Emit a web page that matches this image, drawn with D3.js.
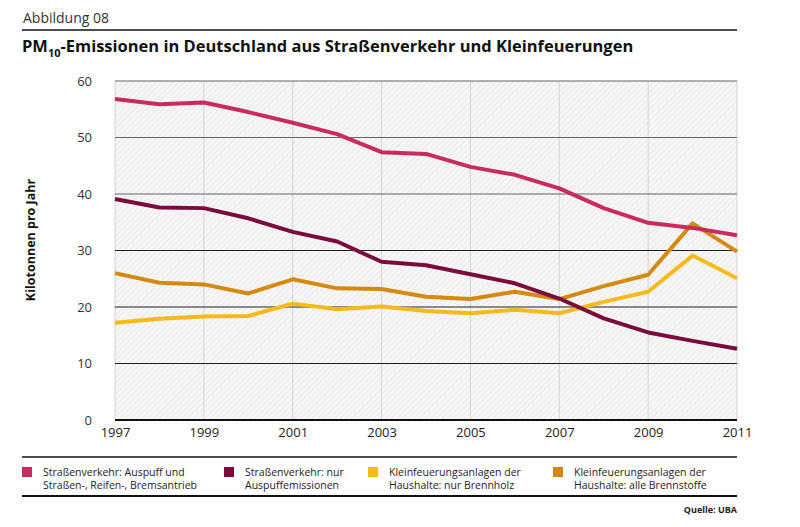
<!DOCTYPE html>
<html><head><meta charset="utf-8">
<script src="https://cdn.jsdelivr.net/npm/d3@7"></script>
<style>
body{margin:0;background:#fff;}
text{font-family:"Open Sans",sans-serif;}
</style></head>
<body><svg id="c" width="800" height="527"></svg>
<script>
const years = [1997,1998,1999,2000,2001,2002,2003,2004,2005,2006,2007,2008,2009,2010,2011];
const tickYears = [1997,1999,2001,2003,2005,2007,2009,2011];
const yTicks = [0,10,20,30,40,50,60];
const strasseGesamt = [56.8,55.9,56.2,54.5,52.6,50.6,47.4,47.1,44.8,43.4,41.0,37.5,34.9,34.0,32.7];
const strasseAuspuff = [39.1,37.6,37.5,35.7,33.3,31.6,28.0,27.4,25.8,24.2,21.5,18.0,15.5,14.0,12.6];
const brennholz = [17.2,17.9,18.3,18.4,20.6,19.6,20.1,19.3,18.9,19.5,18.9,20.9,22.7,29.1,25.1];
const alleBrennstoffe = [26.0,24.3,24.0,22.4,24.9,23.3,23.2,21.8,21.4,22.7,21.4,23.7,25.7,34.8,29.8];
const seriesNames = ["Straßenverkehr: Auspuff und|Straßen-, Reifen-, Bremsantrieb","Straßenverkehr: nur|Auspuffemissionen","Kleinfeuerungsanlagen der|Haushalte: nur Brennholz","Kleinfeuerungsanlagen der|Haushalte: alle Brennstoffe"];
const colors = ["#c92b5f","#7a0c3b","#f5bb1c","#d48a10"];

const svg = d3.select("#c");
const L=115,R=737,T=81,B=420;
const x = d3.scaleLinear().domain([1997,2011]).range([L,R]);
const y = d3.scaleLinear().domain([0,60]).range([B,T]);

const defs = svg.append("defs");
const pat = defs.append("pattern").attr("id","hatch").attr("patternUnits","userSpaceOnUse")
  .attr("width",4).attr("height",4).attr("patternTransform","rotate(45)");
pat.append("rect").attr("width",4).attr("height",4).attr("fill","#f7f7f7");
pat.append("line").attr("x1",0).attr("y1",0).attr("x2",0).attr("y2",4).attr("stroke","#e6e6e6").attr("stroke-width",1.6);

// header
svg.append("text").attr("x",23).attr("y",23).attr("font-size",14).attr("fill","#333").text("Abbildung 08");
svg.append("line").attr("x1",22).attr("x2",R).attr("y1",30).attr("y2",30).attr("stroke","#111").attr("stroke-width",1.5);
const t = svg.append("text").attr("x",22).attr("y",52).attr("font-size",19.5).attr("font-weight","bold")
  .attr("font-family","Lato").attr("fill","#111");
t.append("tspan").text("PM");
t.append("tspan").attr("font-size",11).attr("dy",5).text("10");
t.append("tspan").attr("dy",-5).text("-Emissionen in Deutschland aus Straßenverkehr und Kleinfeuerungen");
const tw = t.node().getComputedTextLength();
if (tw > 610) t.attr("font-size", 19.5*610/tw);

// plot bg
svg.append("rect").attr("x",L).attr("y",T).attr("width",R-L).attr("height",B-T).attr("fill","url(#hatch)");

// vertical grid
svg.append("g").selectAll("line").data(tickYears).join("line")
  .attr("x1",d=>x(d)).attr("x2",d=>x(d)).attr("y1",T).attr("y2",B)
  .attr("stroke","#d4d4d4").attr("stroke-width",1);
// horizontal grid
svg.append("g").selectAll("line").data(yTicks.filter(d=>d>0)).join("line")
  .attr("x1",L).attr("x2",R).attr("y1",d=>y(d)).attr("y2",d=>y(d))
  .attr("stroke",d=>d>=40?"#666":"#222").attr("stroke-width",1.2);
svg.append("line").attr("x1",L).attr("x2",R).attr("y1",B).attr("y2",B).attr("stroke","#111").attr("stroke-width",2);

// axes
const ya = svg.append("g").attr("transform",`translate(${L},0)`)
  .call(d3.axisLeft(y).tickValues(yTicks).tickSize(0).tickPadding(23));
ya.select(".domain").remove();
ya.selectAll("text").attr("font-size",13).attr("fill","#333").attr("font-family","Open Sans");
const xa = svg.append("g").attr("transform",`translate(0,${B})`)
  .call(d3.axisBottom(x).tickValues(tickYears).tickFormat(d3.format("d")).tickSize(0).tickPadding(8));
xa.select(".domain").remove();
xa.selectAll("text").attr("font-size",13).attr("fill","#222").attr("font-family","Open Sans");

svg.append("text").attr("transform",`translate(35,240) rotate(-90)`).attr("text-anchor","middle")
  .attr("font-size",12.5).attr("font-weight","bold").attr("fill","#111").text("Kilotonnen pro Jahr");

// lines
const line = d3.line().x((d,i)=>x(years[i])).y(d=>y(d));
const data = [strasseGesamt,strasseAuspuff,brennholz,alleBrennstoffe];
const order = [2,3,1,0];
order.forEach(i=>{
  svg.append("path").attr("d",line(data[i])).attr("fill","none").attr("stroke",colors[i])
    .attr("stroke-width",4).attr("stroke-linejoin","round");
});

// legend
svg.append("line").attr("x1",22).attr("x2",R).attr("y1",457).attr("y2",457).attr("stroke","#111").attr("stroke-width",1.3);
svg.append("line").attr("x1",22).attr("x2",R).attr("y1",496).attr("y2",496).attr("stroke","#111").attr("stroke-width",2);
const lx = [22,224,368,553];
seriesNames.forEach((n,i)=>{
  svg.append("rect").attr("x",lx[i]).attr("y",467).attr("width",10).attr("height",10).attr("fill",colors[i]);
  const parts = n.split("|");
  parts.forEach((p,j)=>{
    svg.append("text").attr("x",lx[i]+21).attr("y",476+j*12.5).attr("font-size",10.5).attr("fill","#222").text(p);
  });
});
svg.append("text").attr("x",R).attr("y",513).attr("text-anchor","end").attr("font-size",9)
  .attr("font-family","Liberation Serif").attr("font-weight","bold").attr("fill","#222").text("Quelle: UBA");
</script></body></html>
